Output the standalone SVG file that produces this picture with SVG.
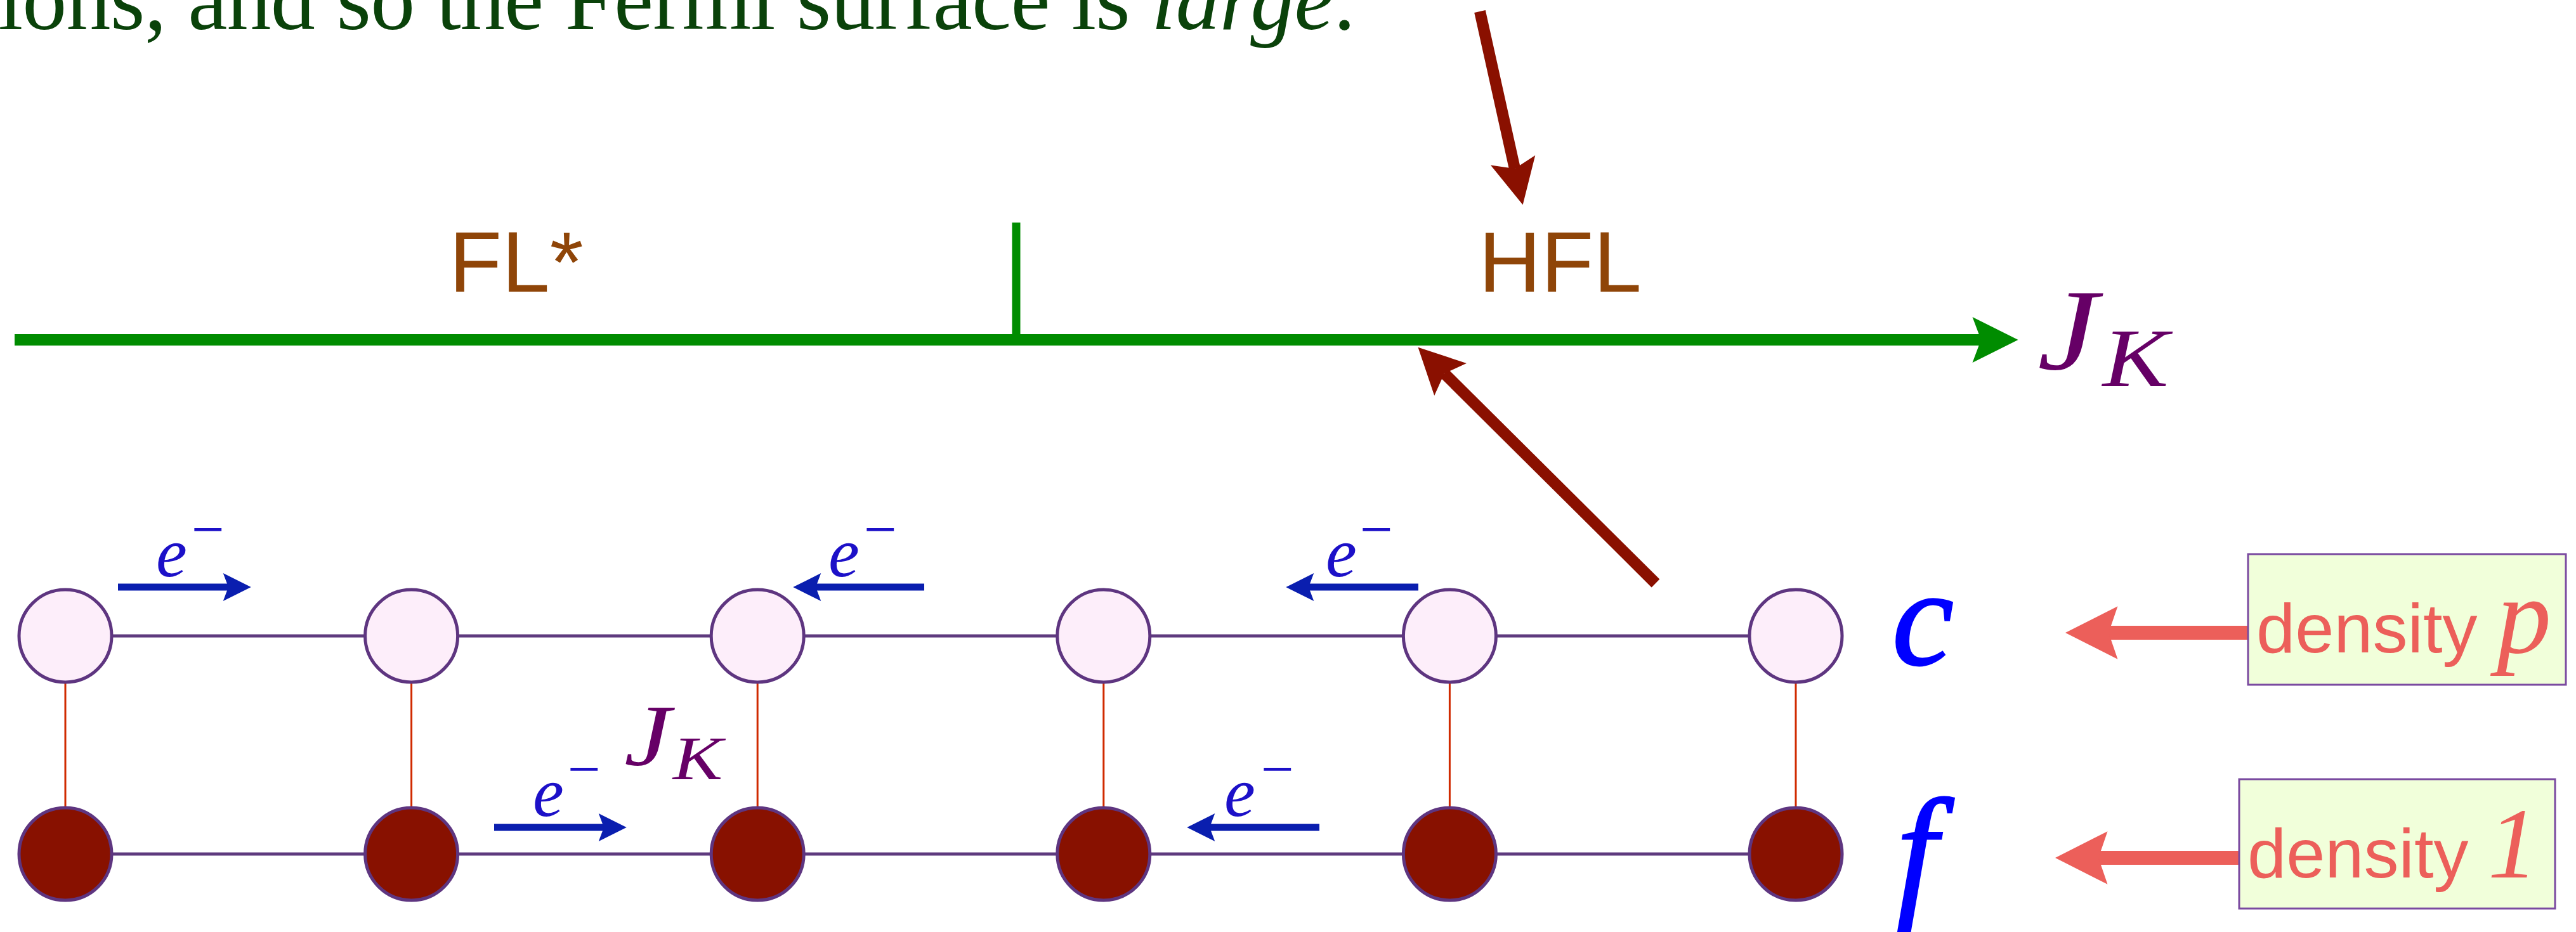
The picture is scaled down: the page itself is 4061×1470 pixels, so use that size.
<svg xmlns="http://www.w3.org/2000/svg" width="4061" height="1470" viewBox="0 0 4061 1470">
<style>
.serif{font-family:"Liberation Serif","DejaVu Serif",serif}
.sans{font-family:"Liberation Sans",Arial,sans-serif}
.it{font-style:italic}
.phase{font-family:"Liberation Sans",Arial,sans-serif;font-size:136px;fill:#8f4508}
.jk{font-family:"Liberation Serif",serif;font-style:italic;fill:#660066}
.e{font-family:"Liberation Serif",serif;font-style:italic;font-size:110px;fill:#1c10c8}
.sup{font-style:normal;font-size:92px}
.cf{font-family:"Liberation Serif",serif;font-style:italic;fill:#0000ff;stroke:#0000ff;stroke-width:3}
.site-c{fill:#fdeefa;stroke:#5e3580;stroke-width:5}
.site-f{fill:#881100;stroke:#5e3580;stroke-width:5}
.hop{stroke:#5e3a7e;stroke-width:5;fill:none}
.kondo{stroke:#d02a00;stroke-width:3;fill:none}
.box{fill:#f1ffda;stroke:#7a4aa0;stroke-width:3}
.dens{font-family:"Liberation Sans",Arial,sans-serif;font-size:110px;fill:#ec5f5a}
.densit{font-family:"Liberation Serif",serif;font-style:italic}
.ax{stroke:#008c00;fill:none}
.blue{stroke:#0a1eaf;stroke-width:11;fill:none;marker-end:url(#hb)}
.salmon{stroke:#ec5f5a;stroke-width:22;fill:none;marker-end:url(#hs)}
.dred{stroke:#8a1000;stroke-width:18;fill:none;marker-end:url(#hr)}
</style>
<defs>
<marker id="hg" markerUnits="strokeWidth" markerWidth="4" markerHeight="4" viewBox="0 -2 4 4" refX="0.75" refY="0" orient="auto" overflow="visible"><path d="M0,-2 L4,0 L0,2 L0.75,0 Z" fill="#008c00"/></marker>
<marker id="hb" markerUnits="strokeWidth" markerWidth="4" markerHeight="4" viewBox="0 -2 4 4" refX="0.75" refY="0" orient="auto" overflow="visible"><path d="M0,-2 L4,0 L0,2 L0.75,0 Z" fill="#0a1eaf"/></marker>
<marker id="hs" markerUnits="strokeWidth" markerWidth="4" markerHeight="4" viewBox="0 -2 4 4" refX="0.75" refY="0" orient="auto" overflow="visible"><path d="M0,-1.9 L3.75,0 L0,1.9 L0.65,0 Z" fill="#ec5f5a"/></marker>
<marker id="hr" markerUnits="strokeWidth" markerWidth="4" markerHeight="4" viewBox="0 -2 4 4" refX="0.75" refY="0" orient="auto" overflow="visible"><path d="M0,-2 L4,0 L0,2 L0.75,0 Z" fill="#8a1000"/></marker>
</defs>
<rect width="4061" height="1470" fill="#ffffff"/>

<g id="caption">
<text class="serif" x="-41" y="46" font-size="140" fill="#0a420a" textLength="2178" lengthAdjust="spacing">tions, and so the Fermi surface is <tspan class="it">large</tspan>.</text>
</g>

<g id="axis">
<line class="ax" x1="23" y1="536" x2="3123" y2="536" stroke-width="18" marker-end="url(#hg)"/>
<line class="ax" x1="1602" y1="351" x2="1602" y2="536" stroke-width="13"/>
</g>
<g id="label-flstar"><text class="phase" x="708" y="460">FL*</text></g>
<g id="label-hfl"><text class="phase" x="2331" y="460">HFL</text></g>
<g id="label-axis-jk"><text class="jk" transform="translate(3212,582) scale(1.18,1)" font-size="182">J<tspan x="87" y="27" font-size="132">K</tspan></text></g>

<g id="connectors">
<line class="hop" x1="103" y1="1003" x2="2831" y2="1003"/>
<line class="hop" x1="103" y1="1347" x2="2831" y2="1347"/>
<line class="kondo" x1="103" y1="1003" x2="103" y2="1347"/>
<line class="kondo" x1="648.6" y1="1003" x2="648.6" y2="1347"/>
<line class="kondo" x1="1194.2" y1="1003" x2="1194.2" y2="1347"/>
<line class="kondo" x1="1739.8" y1="1003" x2="1739.8" y2="1347"/>
<line class="kondo" x1="2285.4" y1="1003" x2="2285.4" y2="1347"/>
<line class="kondo" x1="2831" y1="1003" x2="2831" y2="1347"/>
<line class="blue" x1="186" y1="926" x2="360" y2="926"/>
<line class="blue" x1="1457" y1="926" x2="1286" y2="926"/>
<line class="blue" x1="2236" y1="926" x2="2063" y2="926"/>
<line class="blue" x1="779" y1="1305" x2="952" y2="1305"/>
<line class="blue" x1="2080" y1="1305" x2="1907" y2="1305"/>
<line class="salmon" x1="3544" y1="998" x2="3322" y2="998"/>
<line class="salmon" x1="3530" y1="1353" x2="3306" y2="1353"/>
<line class="dred" x1="2333" y1="18" x2="2388" y2="266"/>
<line class="dred" x1="2610" y1="920" x2="2277" y2="589"/>
</g>

<g id="c-sites">
<circle id="c1" class="site-c" cx="103" cy="1003" r="73"/>
<circle id="c2" class="site-c" cx="648.6" cy="1003" r="73"/>
<circle id="c3" class="site-c" cx="1194.2" cy="1003" r="73"/>
<circle id="c4" class="site-c" cx="1739.8" cy="1003" r="73"/>
<circle id="c5" class="site-c" cx="2285.4" cy="1003" r="73"/>
<circle id="c6" class="site-c" cx="2831" cy="1003" r="73"/>
</g>
<g id="f-sites">
<circle id="f1" class="site-f" cx="103" cy="1347" r="73"/>
<circle id="f2" class="site-f" cx="648.6" cy="1347" r="73"/>
<circle id="f3" class="site-f" cx="1194.2" cy="1347" r="73"/>
<circle id="f4" class="site-f" cx="1739.8" cy="1347" r="73"/>
<circle id="f5" class="site-f" cx="2285.4" cy="1347" r="73"/>
<circle id="f6" class="site-f" cx="2831" cy="1347" r="73"/>
</g>

<g id="electron-labels">
<text class="e" x="246" y="909">e<tspan class="sup" x="302" y="866">−</tspan></text>
<text class="e" x="1306" y="909">e<tspan class="sup" x="1362" y="866">−</tspan></text>
<text class="e" x="2090" y="909">e<tspan class="sup" x="2144" y="866">−</tspan></text>
<text class="e" x="840" y="1287">e<tspan class="sup" x="895" y="1244">−</tspan></text>
<text class="e" x="1930" y="1287">e<tspan class="sup" x="1988" y="1244">−</tspan></text>
</g>
<g id="label-lattice-jk"><text class="jk" transform="translate(984,1207) scale(1.2,1)" font-size="138">J<tspan x="64" y="22" font-size="98">K</tspan></text></g>

<g id="label-c"><text class="cf" x="2983" y="1048" font-size="218">c</text></g>
<g id="label-f"><text class="cf" x="2990" y="1420" font-size="230">f</text></g>

<g id="box-p">
<rect class="box" x="3544" y="874" width="501" height="206"/>
<text class="dens" x="3557" y="1029">density <tspan class="densit" font-size="172">p</tspan></text>
</g>
<g id="box-1">
<rect class="box" x="3530" y="1229" width="498" height="204"/>
<text class="dens" x="3543" y="1384">density <tspan class="densit" font-size="158">1</tspan></text>
</g>
</svg>
